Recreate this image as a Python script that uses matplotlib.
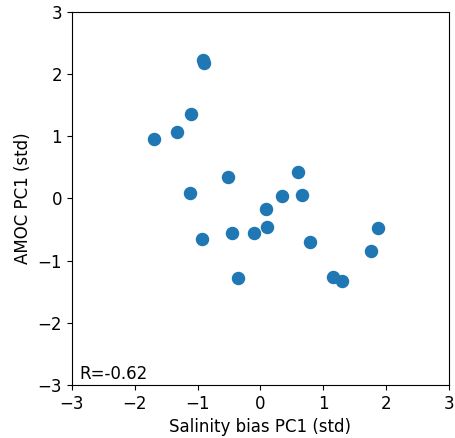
import matplotlib
matplotlib.use("Agg")
import matplotlib.pyplot as plt

# salinity bias PC1 vs AMOC PC1 (standardised)
sal_pc1 = [-1.70, -1.33, -1.10, -0.92, -0.90, -0.51, -1.12, -0.93, -0.46,
           0.59, 0.35, 0.66, 0.08, -0.11, 0.11, 1.87, 0.79, 1.76, -0.35,
           1.16, 1.30]
amoc_pc1 = [0.96, 1.06, 1.36, 2.23, 2.18, 0.34, 0.09, -0.65, -0.56,
            0.42, 0.04, 0.05, -0.17, -0.55, -0.46, -0.47, -0.70, -0.84, -1.28,
            -1.26, -1.33]
r_value = -0.62

plt.rcParams["font.size"] = 12

fig = plt.figure(figsize=(4.55, 4.38), dpi=100)
ax = fig.add_axes([0.158, 0.121, 0.829, 0.852])
ax.scatter(sal_pc1, amoc_pc1, s=75, color="tab:blue")
ax.set_xlim(-3, 3)
ax.set_ylim(-3, 3)
ax.set_xticks(range(-3, 4))
ax.set_yticks(range(-3, 4))
ax.set_xlabel("Salinity bias PC1 (std)")
ax.set_ylabel("AMOC PC1 (std)")
ax.text(0.02, 0.015, f"R={r_value:.2f}", transform=ax.transAxes)

fig.savefig("out.png", dpi=100)
